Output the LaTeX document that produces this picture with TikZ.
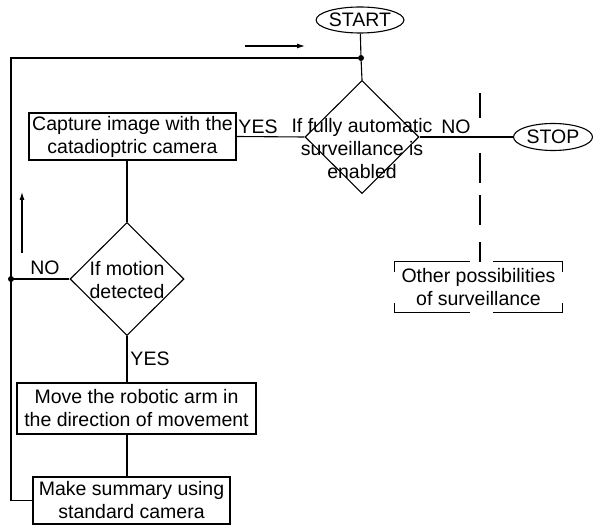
\documentclass[tikz,border=0pt]{standalone}
\usepackage{fontspec}
\setmainfont{Liberation Sans}
\usetikzlibrary{shapes.geometric,arrows.meta}
\begin{document}
\begin{tikzpicture}[x=1pt,y=-1pt,
  every node/.style={font=\fontsize{19.5}{23}\selectfont, inner sep=0pt},
  line/.style={line width=1.1pt},
  box/.style={draw, line width=1.1pt, align=center},
  term/.style={ellipse, draw, line width=1.1pt},
  decision/.style={diamond, draw, line width=1.1pt, minimum width=114pt, minimum height=113pt},
  lbl/.style={align=center},
  dot/.style={circle, fill, inner sep=0pt, minimum size=6pt},
  arr/.style={line width=1.1pt, -{Latex[length=8pt,width=5pt]}}]
\useasboundingbox (0,0) rectangle (593,526);
% terminals
\node[term, minimum width=85pt, minimum height=26pt] (start) at (360,20) {START};
\node[term, minimum width=79pt, minimum height=27pt] (stop) at (553,137) {STOP};
% junction
\node[dot] (j) at (361,58) {};
\coordinate (lt) at (11,58);
% decision 1
\node[decision] (d1) at (362,137) {};
\node[lbl] (d1t) at (362,149) {If fully automatic\\surveillance is\\enabled};
% capture
\node[box, minimum width=207pt, minimum height=47pt] (cap) at (132.5,136.5) {Capture image with the\\catadioptric camera};
% decision 2
\node[decision] (d2) at (127,279) {};
\node[lbl] (d2t) at (127,280) {If motion\\detected};
% move
\node[box, minimum width=239pt, minimum height=51pt] (move) at (136.5,408.5) {Move the robotic arm in\\the direction of movement};
% make summary
\node[box, minimum width=197pt, minimum height=47pt] (make) at (131.5,500.5) {Make summary using\\standard camera};
% other
\node[lbl, minimum width=167pt, minimum height=50pt] (oth) at (478.5,287) {Other possibilities\\of surveillance};
% labels
\node (yes1) at (258,127) {YES};
\node (no1) at (456,127) {NO};
\node (no2) at (45,268) {NO};
\node (yes2) at (150,359) {YES};
% connectors
\draw[line] (start) -- (j);
\draw[line] (j) -- (d1.north);
\draw[line] (cap.east) -- (d1.west);
\draw[line] (d1.east) -- (stop.west);
\draw[line] (d2.north |- cap.south) -- (d2.north);
\draw[line] (d2.south) -- (d2.south |- move.north);
\draw[line] (d2.south |- move.south) -- (d2.south |- make.north);
\draw[line] (make.west) -- (make.west -| lt) -- (lt) -- (j);
\draw[line] (d2.west) -- (d2.west -| lt);
\node[dot] (j2) at (d2.west -| lt) {};
% dashed line to other possibilities
\coordinate (dtop) at (480,93);
\draw[line, dash pattern=on 25pt off 35pt on 30pt off 12pt on 30pt off 17pt on 20pt off 10pt] (dtop) -- (dtop |- oth.north);
% broken frame of other
\draw[line] (oth.north west) ++(0,10) -- (oth.north west) -- ++(75,0);
\draw[line] (oth.north east) ++(0,10) -- (oth.north east) -- ++(-69,0);
\draw[line] (oth.south west) ++(0,-9) -- (oth.south west) -- ++(75,0);
\draw[line] (oth.south east) ++(0,-9) -- (oth.south east) -- ++(-69,0);
% direction arrows
\coordinate (ta1) at (245,46);
\coordinate (ta2) at (305,46);
\draw[arr] (ta1) -- (ta2);
\coordinate (ua1) at (22,253);
\coordinate (ua2) at (22,192);
\draw[arr] (ua1) -- (ua2);
\end{tikzpicture}
\end{document}
